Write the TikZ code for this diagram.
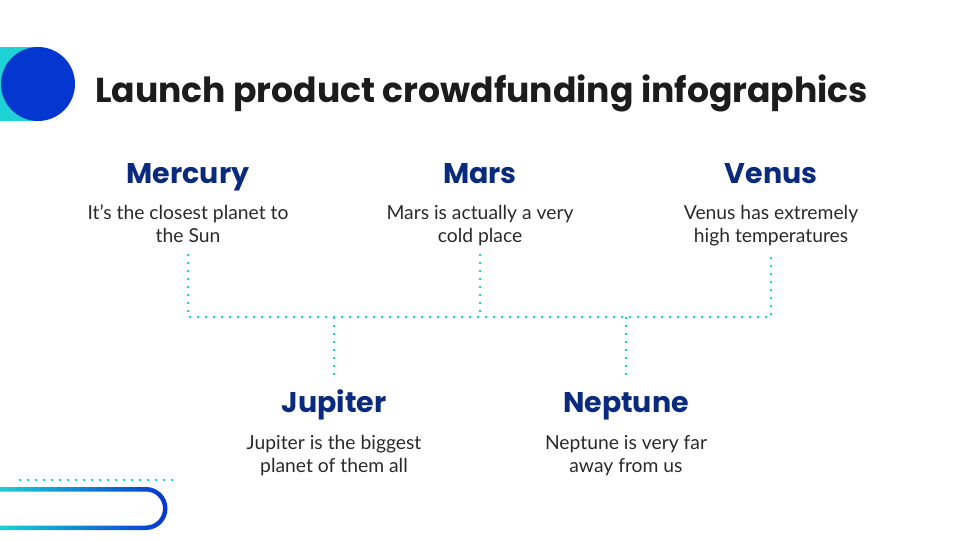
\documentclass[tikz,border=0pt]{standalone}
\usepackage{fontspec}
\setmainfont{Poppins}
\newfontfamily\bodyfont{Lato}
\usetikzlibrary{calc}
\definecolor{aqua}{HTML}{1ED3D6}
\definecolor{royal}{HTML}{0436D0}
\definecolor{navy}{HTML}{0A2A7E}
\definecolor{ink}{HTML}{1C1C1C}
\definecolor{txt}{HTML}{2A2A2A}
\tikzset{
  heading/.style={text=navy, font=\fontsize{28.5}{32}\selectfont\bfseries, inner sep=0pt, anchor=base},
  blurb/.style={text=txt, font=\bodyfont\fontsize{19.3}{23}\selectfont, align=center, inner sep=0pt, anchor=north},
  dotline/.style={aqua, line width=2pt, dash pattern=on 2pt off 6pt},
}
\begin{document}
\begin{tikzpicture}[x=1pt,y=-1pt]
\useasboundingbox (0,0) rectangle (960,540);
% corner badge
\fill[aqua] (0,47) rectangle (38,121);
\fill[royal] (38,84) circle (37);
% title
\node[text=ink, font=\fontsize{34.6}{40}\selectfont\bfseries, anchor=base west, inner sep=0pt] (title) at (95,103) {Launch product crowdfunding infographics};
% headings
\node[heading] (mercury) at (188,183) {Mercury};
\node[heading] (mars) at (480,183) {Mars};
\node[heading] (venus) at (771,183) {Venus};
\node[heading] (jupiter) at (334,412) {Jupiter};
\node[heading] (neptune) at (626,412) {Neptune};
% descriptions
\node[blurb] (dmercury) at (188,205) {It’s the closest planet to\\the Sun};
\node[blurb] (dmars) at (480,205) {Mars is actually a very\\cold place};
\node[blurb] (dvenus) at (771,205) {Venus has extremely\\high temperatures};
\node[blurb] (djupiter) at (334,435) {Jupiter is the biggest\\planet of them all};
\node[blurb] (dneptune) at (626,435) {Neptune is very far\\away from us};
% dotted connectors
\coordinate (a1) at (188,254);
\coordinate (a2) at (480,254);
\coordinate (a3) at (771,254);
\coordinate (b1) at (188,317);
\coordinate (b2) at (480,317);
\coordinate (b3) at (771,317);
\coordinate (c1) at (334,317);
\coordinate (c2) at (626,317);
\coordinate (e1) at (334,381);
\coordinate (e2) at (626,381);
\draw[dotline] (a1) -- (b1) -- (b3) -- (a3);
\draw[dotline] (a2) -- (b2);
\draw[dotline] (c1) -- (e1);
\draw[dotline] (c2) -- (e2);
% bottom decoration: dotted rule and gradient pill outline
\coordinate (d1) at (19,480);
\coordinate (d2) at (173,480);
\draw[dotline] (d1) -- (d2);
\shade[left color=aqua, right color=royal, even odd rule]
  (-5,487) -- (146,487) arc[start angle=-90, end angle=90, radius=21.5] -- (-5,530) -- cycle
  (-5,491.5) -- (146,491.5) arc[start angle=-90, end angle=90, radius=17] -- (-5,525.5) -- cycle;
\end{tikzpicture}
\end{document}
